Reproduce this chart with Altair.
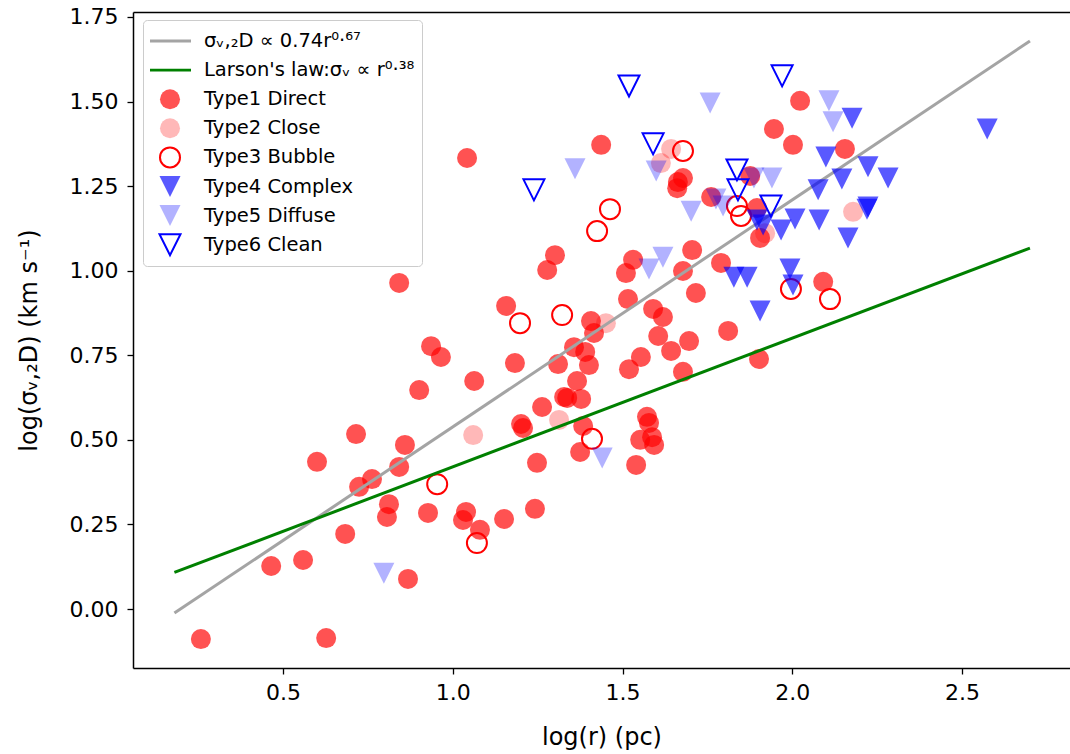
import altair as alt
import pandas as pd

# ---------------- data ----------------
t1_x = [0.258, 0.627, 0.465, 0.559, 0.868, 0.683, 0.600, 0.715, 0.724, 0.762,
        0.842, 0.859, 0.812, 0.806, 0.842, 0.936, 0.965, 0.901, 0.927, 1.039,
        1.030, 1.080, 1.063, 1.042, 1.151, 1.183, 1.201, 1.207, 1.248, 1.242,
        1.263, 1.278, 1.301, 1.157, 1.437, 1.531, 1.510, 1.516, 1.705, 1.678,
        1.716, 1.663, 1.678, 1.661, 1.761, 1.590, 1.619, 1.605, 1.696, 1.407,
        1.416, 2.023, 1.946, 2.002, 2.155, 1.876, 1.896, 1.905, 1.790, 1.811,
        2.091, 1.678, 1.902, 1.643, 1.554, 1.519, 1.310, 1.357, 1.390, 1.401,
        1.366, 1.328, 1.337, 1.378, 1.384, 1.375, 1.540, 1.572, 1.578, 1.552,
        1.587, 1.593]
t1_y = [-0.089, -0.086, 0.127, 0.145, 0.089, 0.222, 0.435, 0.517, 0.361, 0.384,
        0.420, 0.485, 0.310, 0.272, 0.964, 0.777, 0.745, 0.647, 0.284, 0.287,
        0.263, 0.234, 0.674, 1.333, 0.266, 0.727, 0.547, 0.535, 0.432, 0.296,
        0.597, 1.002, 1.046, 0.896, 1.372, 1.032, 0.993, 0.916, 1.061, 0.999,
        0.934, 1.262, 1.274, 1.244, 1.218, 0.887, 0.863, 0.807, 0.792, 0.851,
        0.816, 1.502, 1.419, 1.372, 1.360, 1.280, 1.185, 1.097, 1.023, 0.822,
        0.967, 0.701, 0.739, 0.763, 0.745, 0.709, 0.724, 0.774, 0.760, 0.721,
        0.674, 0.627, 0.624, 0.621, 0.541, 0.464, 0.426, 0.568, 0.550, 0.500,
        0.508, 0.485]

t2_x = [1.060, 1.313, 1.451, 1.643, 1.613, 1.920, 2.179]
t2_y = [0.514, 0.559, 0.845, 1.360, 1.318, 1.111, 1.174]

t3_x = [0.954, 1.071, 1.198, 1.322, 1.410, 1.463, 1.425, 1.678, 1.837, 1.849, 1.996, 2.111]
t3_y = [0.369, 0.195, 0.845, 0.869, 0.503, 1.182, 1.117, 1.354, 1.191, 1.162, 0.946, 0.916]

t4_x = [1.905, 2.176, 2.574, 2.099, 2.223, 2.282, 2.146, 2.076, 1.896, 1.914,
        1.967, 2.008, 2.079, 2.164, 2.220, 2.223, 1.828, 1.867, 1.993, 2.002]
t4_y = [0.881, 1.451, 1.419, 1.336, 1.307, 1.274, 1.271, 1.239, 1.150, 1.135,
        1.120, 1.153, 1.150, 1.097, 1.182, 1.188, 0.981, 0.981, 1.005, 0.958]

t5_x = [1.440, 0.797, 1.360, 1.599, 1.758, 1.702, 1.619, 1.578, 2.108, 2.120,
        1.940, 1.887, 1.775, 1.796]
t5_y = [0.446, 0.106, 1.301, 1.295, 1.496, 1.176, 1.040, 1.005, 1.502, 1.440,
        1.274, 1.274, 1.212, 1.191]

t6_x = [1.519, 1.590, 1.239, 1.970, 1.837, 1.840, 1.937]
t6_y = [1.546, 1.375, 1.239, 1.576, 1.298, 1.239, 1.191]

fit_x = [0.18, 2.70]
fit_y = [-0.012, 1.679]        # sigma_v,2D ∝ 0.74 r^0.67
larson_y = [0.108, 1.067]      # Larson's law

names = ["σᵥ,₂D ∝ 0.74r⁰·⁶⁷", "Larson's law:σᵥ ∝ r⁰·³⁸",
         "Type1 Direct", "Type2 Close", "Type3 Bubble",
         "Type4 Complex", "Type5 Diffuse", "Type6 Clean"]

# ---------------- styling ----------------
GRAY = "#a4a4a4"
GREEN = "#008000"
BAR = "M-2.1,-0.14L2.1,-0.14L2.1,0.14L-2.1,0.14Z"
TRI = "M-1.05,-1.05L1.05,-1.05L0,1.05Z"
fills = [GRAY, GREEN, "rgba(255,0,0,0.68)", "rgba(255,0,0,0.28)", "transparent",
         "rgba(0,0,255,0.65)", "rgba(0,0,255,0.3)", "transparent"]
strokes = ["transparent", "transparent", "transparent", "transparent", "#ff0000",
           "transparent", "transparent", "#0000ff"]
shapes = [BAR, BAR, "circle", "circle", "circle", TRI, TRI, TRI]

rows = []
for nm, xs, ys in [(names[2], t1_x, t1_y), (names[3], t2_x, t2_y), (names[4], t3_x, t3_y),
                   (names[5], t4_x, t4_y), (names[6], t5_x, t5_y), (names[7], t6_x, t6_y)]:
    for a, b in zip(xs, ys):
        rows.append({"series": nm, "x": a, "y": b})
pts = pd.DataFrame(rows)
pts_low = pts[pts["series"].isin(names[2:5])]
pts_high = pts[pts["series"].isin(names[5:8])]

fit_df = pd.DataFrame({"x": fit_x, "y": fit_y})
lar_df = pd.DataFrame({"x": fit_x, "y": larson_y})

FONT = "DejaVu Sans"
xscale = alt.Scale(domain=[0.058, 2.818], nice=False, zero=False)
yscale = alt.Scale(domain=[-0.1744, 1.7647], nice=False, zero=False)

x_axis = alt.Axis(values=[0.5, 1.0, 1.5, 2.0, 2.5], format=".1f", title="log(r) (pc)",
                  labelFont=FONT, labelFontSize=22, labelColor="black", labelPadding=8,
                  tickSize=6, tickColor="black", tickWidth=1.3, grid=False,
                  domain=True, domainColor="black", domainWidth=1.5,
                  titleFont=FONT, titleFontSize=24, titleFontWeight="normal",
                  titleColor="black", titlePadding=22)
top_axis = alt.Axis(orient="top", labels=False, ticks=False, grid=False, title=None,
                    domain=True, domainColor="black", domainWidth=1.5)
y_axis = alt.Axis(values=[0, 0.25, 0.5, 0.75, 1.0, 1.25, 1.5, 1.75], format=".2f",
                  title="log(σᵥ,₂D) (km s⁻¹)",
                  labelFont=FONT, labelFontSize=22, labelColor="black", labelPadding=9,
                  tickSize=6, tickColor="black", tickWidth=1.3, grid=False,
                  domain=True, domainColor="black", domainWidth=1.5,
                  titleFont=FONT, titleFontSize=24, titleFontWeight="normal",
                  titleColor="black", titlePadding=28)

legend = alt.Legend(title=None, orient="none", legendX=10, legendY=8,
                    labelFont=FONT, labelFontSize=19.5, labelColor="black", labelLimit=400,
                    symbolSize=400, symbolOffset=9, labelOffset=23, rowPadding=1.1,
                    clipHeight=28, padding=7,
                    fillColor="rgba(255,255,255,0.8)", strokeColor="#cccccc",
                    cornerRadius=4, symbolStrokeWidth=2, symbolOpacity=1)

fill_enc = alt.Fill("series:N", scale=alt.Scale(domain=names, range=fills), legend=legend)
stroke_enc = alt.Stroke("series:N", scale=alt.Scale(domain=names, range=strokes), legend=legend)
shape_enc = alt.Shape("series:N", scale=alt.Scale(domain=names, range=shapes), legend=legend)


def point_layer(df, xa):
    return alt.Chart(df).mark_point(filled=True, opacity=1, size=400, strokeWidth=2).encode(
        x=alt.X("x:Q", scale=xscale, axis=xa),
        y=alt.Y("y:Q", scale=yscale, axis=y_axis),
        fill=fill_enc, stroke=stroke_enc, shape=shape_enc,
    )


low = point_layer(pts_low, x_axis)
high = point_layer(pts_high, None)

fit_line = alt.Chart(fit_df).mark_line(color=GRAY, strokeWidth=3).encode(
    x=alt.X("x:Q", scale=xscale, axis=top_axis),
    y=alt.Y("y:Q", scale=yscale, axis=y_axis),
)
lar_line = alt.Chart(lar_df).mark_line(color=GREEN, strokeWidth=3).encode(
    x=alt.X("x:Q", scale=xscale, axis=None),
    y=alt.Y("y:Q", scale=yscale, axis=y_axis),
)

chart = alt.layer(low, fit_line, lar_line, high).resolve_axis(x="independent").properties(
    width=937, height=656,
    autosize=alt.AutoSizeParams(type="none"),
    padding={"left": 133, "top": 12, "right": 0, "bottom": 86},
    background="white",
).configure_view(stroke=None)

chart.save("out.html", embed_options={"renderer": "svg", "actions": False})
